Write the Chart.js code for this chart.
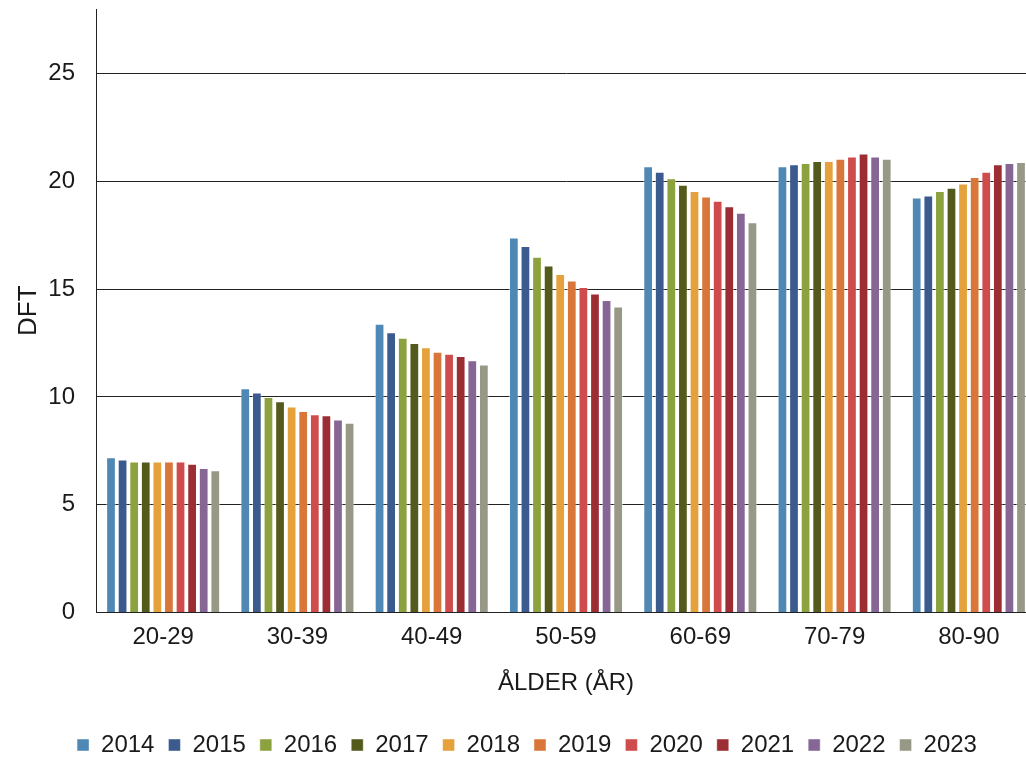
<!DOCTYPE html>
<html><head><meta charset="utf-8">
<script src="https://cdn.jsdelivr.net/npm/chart.js@4"></script>
<style>html,body{margin:0;padding:0;overflow:hidden;background:#fff}#wrap{width:1046px;height:770px;position:relative}</style>
</head><body><div id="wrap"><canvas id="c"></canvas></div>
<script>
const categories = ['20-29','30-39','40-49','50-59','60-69','70-79','80-90'];
const years = ['2014','2015','2016','2017','2018','2019','2020','2021','2022','2023'];
const v2014 = [7.2, 10.4, 13.4, 17.4, 20.7, 20.7, 19.25];
const v2015 = [7.1, 10.2, 13.0, 17.0, 20.45, 20.8, 19.35];
const v2016 = [7.0, 10.0, 12.75, 16.5, 20.15, 20.85, 19.55];
const v2017 = [7.0, 9.8, 12.5, 16.1, 19.85, 20.95, 19.7];
const v2018 = [7.0, 9.55, 12.3, 15.7, 19.55, 20.95, 19.9];
const v2019 = [7.0, 9.35, 12.1, 15.4, 19.3, 21.05, 20.2];
const v2020 = [7.0, 9.2, 12.0, 15.1, 19.1, 21.15, 20.45];
const v2021 = [6.9, 9.15, 11.9, 14.8, 18.85, 21.3, 20.8];
const v2022 = [6.7, 8.95, 11.7, 14.5, 18.55, 21.15, 20.85];
const v2023 = [6.6, 8.8, 11.5, 14.2, 18.1, 21.05, 20.9];
const seriesValues = [v2014, v2015, v2016, v2017, v2018, v2019, v2020, v2021, v2022, v2023];
const colors = ['#4F88B5','#3B5B8F','#8BA23E','#535A1C','#E5A13C','#D9763A','#D04B4B','#9B2D33','#866694','#979885'];
const yTicks = [0,5,10,15,20,25];

const FONT = "'Liberation Sans', Arial, sans-serif";
const datasets = years.map((y, i) => ({
  label: y,
  data: seriesValues[i],
  backgroundColor: colors[i],
  borderColor: 'rgba(255,255,255,0.45)',
  borderWidth: 1,
  borderSkipped: 'bottom',
  categoryPercentage: 0.863,
  barPercentage: 0.84
}));

new Chart(document.getElementById('c'), {
  type: 'bar',
  data: { labels: categories, datasets },
  options: {
    responsive: true,
    maintainAspectRatio: false,
    animation: false,
    layout: { padding: { left: 18, right: 10, top: 9, bottom: 3 } },
    plugins: {
      tooltip: { enabled: false },
      legend: {
        position: 'bottom',
        labels: {
          boxWidth: 12, boxHeight: 12, padding: 14,
          color: '#1a1a1a',
          font: { family: FONT, size: 24 }
        }
      }
    },
    scales: {
      x: {
        grid: { display: false, drawTicks: false },
        border: { display: true, color: '#222', width: 1 },
        ticks: { color: '#1a1a1a', padding: 11, font: { family: FONT, size: 24 } },
        title: { display: true, text: 'ÅLDER (ÅR)', color: '#1a1a1a', font: { family: FONT, size: 24 }, padding: { top: 6, bottom: 21 } },
        afterFit: (s) => { s.paddingLeft = 0; s.paddingRight = 0; }
      },
      y: {
        min: 0, max: 28,
        afterBuildTicks: (s) => { s.ticks = yTicks.map(v => ({ value: v })); },
        afterFit: (s) => { s.width = 78; s.paddingTop = 0; s.paddingBottom = 0; },
        grid: { color: '#222', lineWidth: 1, drawTicks: false },
        border: { display: true, color: '#222', width: 1 },
        ticks: { color: '#1a1a1a', padding: 21, font: { family: FONT, size: 24 } },
        title: { display: true, text: 'DFT', color: '#1a1a1a', font: { family: FONT, size: 26 }, padding: { top: -5, bottom: 3 } }
      }
    }
  }
});
</script></body></html>
